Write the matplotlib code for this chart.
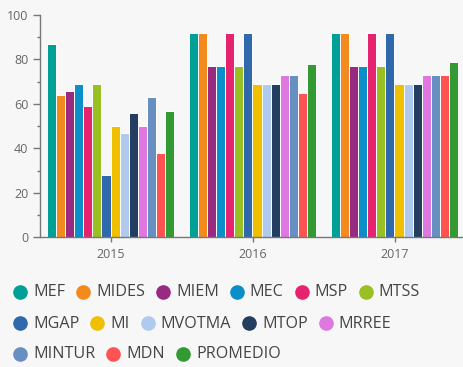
import matplotlib
matplotlib.use('Agg')
import matplotlib.pyplot as plt
import numpy as np
from matplotlib.lines import Line2D

plt.rcParams['font.family'] = ['Open Sans', 'DejaVu Sans']

anios = ['2015', '2016', '2017']
organismos = ['MEF', 'MIDES', 'MIEM', 'MEC', 'MSP', 'MTSS', 'MGAP',
              'MI', 'MVOTMA', 'MTOP', 'MRREE', 'MINTUR', 'MDN', 'PROMEDIO']
colores = ['#00a096', '#f28a1e', '#992a82', '#0a8fc9', '#e5236f', '#98c023',
           '#2f69ab', '#efbf00', '#afcaec', '#233e61', '#df77e0', '#678fc1',
           '#ff5252', '#339933']

# puntaje de cada organismo por año
v2015 = [87, 64, 66, 69, 59, 69, 28, 50, 47, 56, 50, 63, 38, 57]
v2016 = [92, 92, 77, 77, 92, 77, 92, 69, 69, 69, 73, 73, 65, 78]
v2017 = [92, 92, 77, 77, 92, 77, 92, 69, 69, 69, 73, 73, 73, 79]

W, H = 463, 367
fondo = '#f7f7f7'
gris = '#666666'

fig = plt.figure(figsize=(W / 100, H / 100), dpi=100, facecolor=fondo)
ax = fig.add_axes([39.5 / W, (H - 237.3) / H, 426 / W, 222.3 / H])
ax.set_facecolor(fondo)

datos = np.array([v2015, v2016, v2017])
x = np.arange(len(anios))
n = len(organismos)
ancho = 0.891 / n
for i, org in enumerate(organismos):
    pos = x - 0.891 / 2 + ancho * (i + 0.5)
    ax.bar(pos, datos[:, i], width=ancho, color=colores[i],
           edgecolor='white', linewidth=0.7, zorder=2)

ax.set_xlim(-0.5, 2.5)
ax.set_ylim(0, 100)
ax.set_xticks(x)
ax.set_xticklabels(anios)
ax.set_yticks(np.arange(0, 101, 20))
ax.set_yticks(np.arange(10, 100, 20), minor=True)

for lado in ['top', 'right']:
    ax.spines[lado].set_visible(False)
for lado in ['left', 'bottom']:
    ax.spines[lado].set_color('#777777')
    ax.spines[lado].set_linewidth(1.0)

ax.tick_params(axis='y', which='major', length=5, width=1, color='#777777',
               labelsize=9, labelcolor=gris, pad=3)
ax.tick_params(axis='y', which='minor', length=2.5, width=1, color='#777777')
ax.tick_params(axis='x', length=3.5, width=1, color='#777777',
               labelsize=9, labelcolor=gris, pad=4)

# leyenda en filas que se ajustan al ancho
fig.canvas.draw()
rend = fig.canvas.get_renderer()
cx, fila = 20.0, 0
filas_y = [292, 323, 353.5]
limite = 458
radio = 6.5
for org, col in zip(organismos, colores):
    t = fig.text(0, 0, org, fontsize=11.6, color='#444444', va='center',
                 ha='left')
    tw = t.get_window_extent(rend).width
    if cx + radio + 6 + tw > limite:
        fila += 1
        cx = 20.0
    y = filas_y[fila]
    fig.add_artist(Line2D([cx / W], [1 - y / H], marker='o', markersize=9.5,
                          color=col, linestyle='none',
                          transform=fig.transFigure))
    t.set_position(((cx + radio + 6.5) / W, 1 - (y + 0.5) / H))
    cx = cx + radio + 6.5 + tw + 11.5 + radio

fig.savefig('out.png', dpi=100, facecolor=fondo)
